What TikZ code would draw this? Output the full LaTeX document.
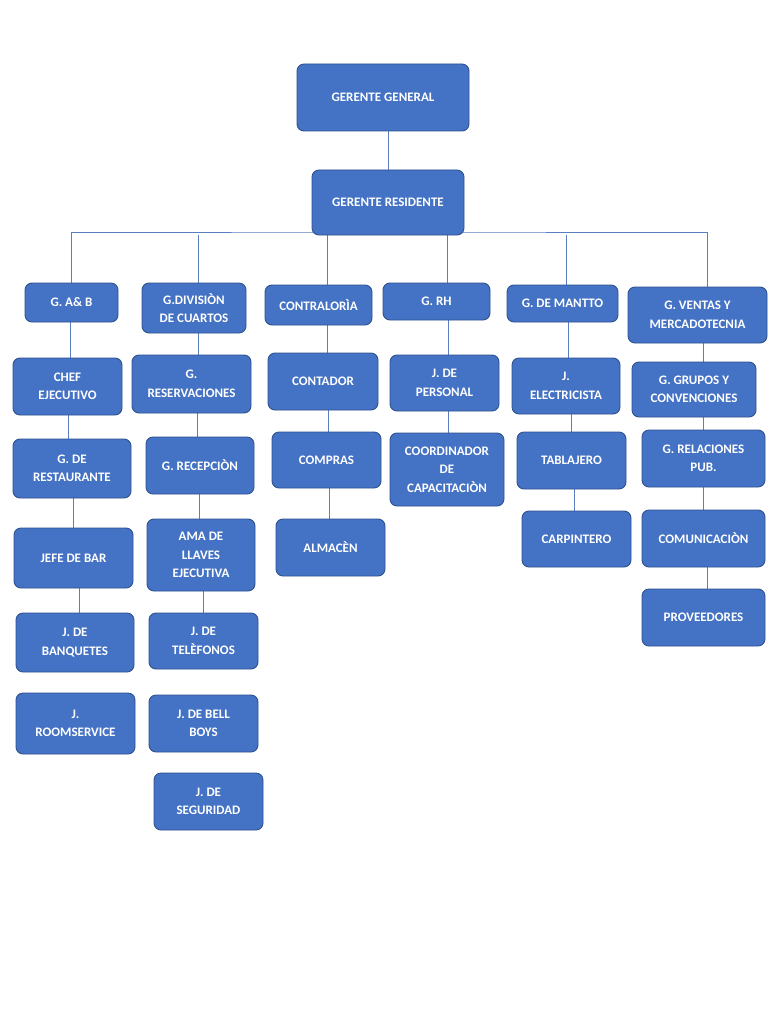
\documentclass[tikz,border=0pt]{standalone}
\usepackage{fontspec}
\setmainfont{Carlito}
\usetikzlibrary{calc,backgrounds}
\definecolor{boxfill}{HTML}{4472C4}
\definecolor{boxedge}{HTML}{2F528F}
\definecolor{linecol}{HTML}{5A7EC2}
\tikzset{
  box/.style={draw=boxedge, fill=boxfill, rounded corners=7pt, text=white,
    font=\fontsize{13}{18.5}\selectfont\bfseries, align=center,
    inner sep=1pt, outer sep=0pt, line width=0.9pt},
  conn/.style={draw=linecol, line width=0.8pt}
}
\newcommand{\bx}[6]{\node[box, minimum width={(#4-#2)*1pt}, minimum height={(#5-#3)*1pt}] (#1) at ({(#2+#4)/2*1pt},{-(#3+#5)/2*1pt}) {#6};}
\newcommand{\lnk}[3]{\draw[conn] ($(#2.north |- #1.south)+(#3pt,0)$) -- ($(#2.north)+(#3pt,0)$);}
\begin{document}
\begin{tikzpicture}
\useasboundingbox (0,0) rectangle (768pt,-1024pt);
\bx{gg}{297}{64}{469}{131}{GERENTE GENERAL}
\bx{gr}{312}{170}{464}{235}{GERENTE RESIDENTE}
\bx{gab}{25}{283}{118}{322}{G. A\& B}
\bx{div}{142}{283}{246}{333}{G.DIVISIÒN\\DE CUARTOS}
\bx{con}{265}{285}{372}{325}{CONTRALORÌA}
\bx{grh}{383}{283}{490}{320}{G. RH}
\bx{gman}{507}{285}{618}{322}{G. DE MANTTO}
\bx{gvm}{628}{287}{767}{343}{G. VENTAS Y\\MERCADOTECNIA}
\bx{chef}{13}{358}{122}{415}{CHEF\\EJECUTIVO}
\bx{res}{132}{355}{251}{413}{G.\\RESERVACIONES}
\bx{cont}{268}{353}{378}{410}{CONTADOR}
\bx{pers}{390}{355}{499}{411}{J. DE\\PERSONAL}
\bx{elec}{512}{358}{620}{414}{J.\\ELECTRICISTA}
\bx{grup}{632}{362}{756}{417}{G. GRUPOS Y\\CONVENCIONES}
\bx{rest}{13}{439}{131}{498}{G. DE\\RESTAURANTE}
\bx{rec}{146}{437}{254}{494}{G. RECEPCIÒN}
\bx{comp}{272}{432}{381}{488}{COMPRAS}
\bx{coord}{390}{433}{504}{506}{COORDINADOR\\DE\\CAPACITACIÒN}
\bx{tab}{517}{432}{626}{489}{TABLAJERO}
\bx{rel}{642}{430}{765}{487}{G. RELACIONES\\PUB.}
\bx{bar}{14}{528}{133}{588}{JEFE DE BAR}
\bx{ama}{147}{519}{255}{591}{AMA DE\\LLAVES\\EJECUTIVA}
\bx{alm}{276}{519}{385}{576}{ALMACÈN}
\bx{carp}{522}{511}{631}{567}{CARPINTERO}
\bx{com}{642}{510}{765}{567}{COMUNICACIÒN}
\bx{banq}{16}{613}{134}{672}{J. DE\\BANQUETES}
\bx{tel}{149}{613}{258}{669}{J. DE\\TELÈFONOS}
\bx{prov}{642}{589}{765}{646}{PROVEEDORES}
\bx{room}{16}{693}{135}{754}{J.\\ROOMSERVICE}
\bx{bell}{149}{695}{258}{752}{J. DE BELL\\BOYS}
\bx{seg}{154}{773}{263}{830}{J. DE\\SEGURIDAD}
\begin{scope}[on background layer]
\fill[white] (0,0) rectangle (768pt,-1024pt);
\lnk{gg}{gr}{0}
\draw[conn] (gab.north) |- ($(gr.south)+(0,3pt)$) -| ($(gvm.north)+(10pt,0)$);
\lnk{gr}{div}{4}
\lnk{gr}{con}{8.5}
\lnk{gr}{grh}{10.5}
\lnk{gr}{gman}{3.5}
\lnk{gab}{chef}{2.5}
\lnk{chef}{rest}{-4}
\lnk{rest}{bar}{0}
\lnk{bar}{banq}{4}
\lnk{div}{res}{6.5}
\lnk{res}{rec}{-3}
\lnk{rec}{ama}{-2}
\lnk{ama}{tel}{0}
\lnk{con}{cont}{4}
\lnk{cont}{comp}{1.5}
\lnk{comp}{alm}{-1.5}
\lnk{grh}{pers}{3.5}
\lnk{pers}{coord}{1}
\lnk{gman}{elec}{2}
\lnk{elec}{tab}{0}
\lnk{tab}{carp}{-2.5}
\lnk{gvm}{grup}{9}
\lnk{grup}{rel}{0}
\lnk{rel}{com}{0}
\lnk{com}{prov}{3.5}
\end{scope}
\end{tikzpicture}
\end{document}
